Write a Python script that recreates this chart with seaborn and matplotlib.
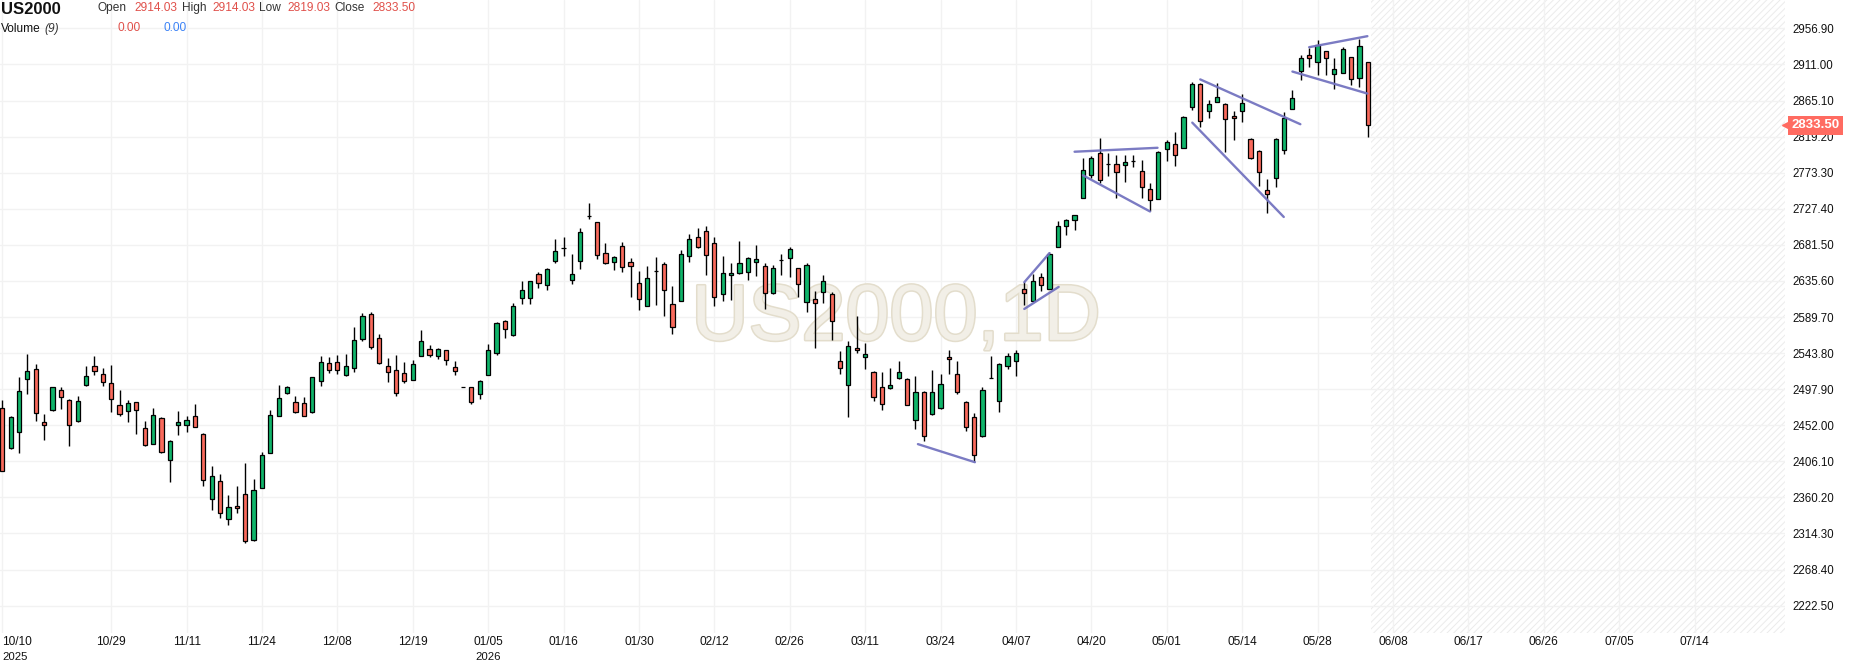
import numpy as np
import pandas as pd
import seaborn as sns
import matplotlib
matplotlib.use("Agg")
import matplotlib.pyplot as plt
import matplotlib.transforms as mtransforms
import matplotlib.patheffects as pe

# daily OHLC (index 0 = 10/10/2025)
opens = [2473.5, 2423.6, 2444.0, 2510.5, 2523.3, 2455.6, 2470.9, 2496.5, 2483.7, 2456.8,
         2502.9, 2527.2, 2516.9, 2505.4, 2477.3, 2469.6, 2481.1, 2447.9, 2428.7, 2460.7,
         2408.2, 2451.7, 2451.7, 2463.2, 2441.5, 2358.4, 2381.4, 2332.8, 2349.4, 2364.6,
         2305.8, 2372.3, 2417.1, 2464.4, 2492.5, 2482.2, 2479.7, 2469.5, 2507.8, 2530.8,
         2532.1, 2515.5, 2524.5, 2561.5, 2593.5, 2562.8, 2527.0, 2521.9, 2518.1, 2509.1,
         2539.8, 2548.7, 2539.8, 2547.5, 2525.7, 2500.2, 2500.2, 2492.0, 2516.5, 2544.4,
         2585.1, 2567.3, 2614.3, 2614.3, 2644.8, 2630.8, 2661.3, 2677.8, 2637.2, 2661.3,
         2718.5, 2710.9, 2671.5, 2660.1, 2680.4, 2660.1, 2633.4, 2604.1, 2647.8, 2657.5,
         2606.7, 2610.5, 2667.7, 2691.8, 2699.3, 2684.0, 2619.2, 2643.4, 2645.9, 2647.2,
         2659.9, 2654.8, 2620.5, 2662.4, 2665.0, 2652.3, 2609.1, 2612.9, 2621.8, 2619.2,
         2534.1, 2503.6, 2550.6, 2539.2, 2520.2, 2501.1, 2499.8, 2512.5, 2511.3, 2459.2,
         2494.8, 2465.8, 2473.4, 2539.4, 2516.6, 2481.0, 2462.0, 2437.9, 2512.3, 2482.3,
         2528.0, 2534.3, 2625.7, 2610.5, 2640.9, 2625.7, 2678.9, 2705.7, 2713.4, 2741.4,
         2770.7, 2798.8, 2783.9, 2784.8, 2783.5, 2787.7, 2775.8, 2752.9, 2739.9, 2803.9,
         2810.2, 2805.0, 2857.1, 2886.4, 2852.0, 2863.5, 2860.9, 2845.7, 2852.0, 2816.8,
         2801.2, 2751.6, 2766.8, 2802.4, 2854.6, 2902.9, 2923.3, 2914.4, 2928.4, 2899.1,
         2900.4, 2920.7, 2894.0, 2914.03]
highs = [2484.5, 2463.6, 2513.1, 2542.9, 2529.7, 2465.8, 2501.0, 2500.3, 2485.0, 2488.8,
         2527.2, 2539.9, 2524.6, 2528.4, 2496.5, 2483.7, 2481.5, 2456.8, 2473.5, 2462.0,
         2433.0, 2469.6, 2463.2, 2478.6, 2442.0, 2400.6, 2390.3, 2363.5, 2375.0, 2404.3,
         2383.8, 2417.5, 2470.8, 2502.7, 2501.4, 2488.6, 2487.4, 2513.5, 2539.8, 2538.5,
         2541.1, 2542.4, 2576.9, 2594.8, 2596.1, 2567.9, 2537.2, 2541.1, 2532.1, 2534.7,
         2573.0, 2553.9, 2550.0, 2548.0, 2533.4, 2500.2, 2500.5, 2510.2, 2555.9, 2583.0,
         2585.5, 2607.9, 2635.9, 2636.0, 2647.4, 2652.4, 2689.3, 2691.8, 2670.2, 2703.2,
         2735.0, 2711.0, 2684.2, 2667.0, 2685.5, 2665.1, 2648.6, 2655.0, 2666.4, 2660.1,
         2629.6, 2675.3, 2695.6, 2703.2, 2705.6, 2691.6, 2667.5, 2658.6, 2686.6, 2665.5,
         2681.5, 2658.6, 2656.1, 2670.0, 2678.9, 2652.5, 2658.6, 2623.0, 2643.4, 2621.8,
         2546.8, 2559.5, 2591.3, 2557.0, 2520.5, 2520.2, 2525.2, 2534.1, 2511.5, 2515.1,
         2496.0, 2522.0, 2517.8, 2548.3, 2534.3, 2482.3, 2467.1, 2501.3, 2540.7, 2531.0,
         2544.5, 2548.3, 2634.6, 2644.7, 2646.0, 2672.6, 2712.1, 2714.6, 2720.0, 2792.4,
         2795.0, 2817.9, 2798.8, 2796.2, 2796.2, 2796.2, 2789.9, 2760.5, 2800.5, 2815.4,
         2825.6, 2845.7, 2888.9, 2887.7, 2866.0, 2887.7, 2861.5, 2852.0, 2873.7, 2817.7,
         2802.4, 2765.6, 2817.7, 2850.8, 2878.8, 2923.3, 2932.2, 2942.4, 2928.5, 2919.5,
         2933.5, 2921.0, 2943.6, 2914.03]
lows = [2393.3, 2422.0, 2417.2, 2491.8, 2457.7, 2433.4, 2470.0, 2473.0, 2425.7, 2456.0,
        2502.0, 2515.6, 2501.6, 2468.3, 2464.1, 2455.6, 2441.1, 2425.7, 2428.0, 2417.2,
        2380.1, 2440.2, 2444.0, 2449.2, 2375.0, 2344.3, 2334.1, 2325.1, 2340.5, 2302.8,
        2305.0, 2372.0, 2417.0, 2464.0, 2492.0, 2468.2, 2464.0, 2468.2, 2501.4, 2518.1,
        2516.8, 2514.2, 2519.3, 2559.0, 2548.7, 2529.6, 2506.6, 2488.6, 2505.3, 2509.0,
        2539.5, 2538.5, 2536.0, 2528.3, 2515.5, 2500.2, 2479.0, 2486.0, 2516.0, 2541.9,
        2563.5, 2566.0, 2606.7, 2606.7, 2627.0, 2624.5, 2658.8, 2667.7, 2632.1, 2651.2,
        2714.7, 2663.9, 2657.5, 2649.9, 2647.4, 2615.6, 2599.1, 2604.0, 2605.4, 2591.4,
        2568.6, 2610.0, 2660.1, 2677.8, 2643.4, 2604.0, 2610.3, 2611.6, 2644.6, 2637.0,
        2642.1, 2600.2, 2619.2, 2643.4, 2640.8, 2615.4, 2596.4, 2550.6, 2607.8, 2560.8,
        2517.6, 2463.0, 2544.3, 2524.0, 2483.3, 2471.9, 2498.6, 2511.3, 2478.0, 2446.9,
        2432.0, 2465.0, 2472.1, 2517.8, 2491.2, 2444.2, 2404.9, 2437.5, 2511.5, 2468.3,
        2524.2, 2515.3, 2605.4, 2610.0, 2623.2, 2625.0, 2678.5, 2694.2, 2700.6, 2741.0,
        2766.9, 2760.5, 2769.5, 2741.4, 2761.8, 2780.9, 2741.0, 2724.8, 2739.5, 2788.6,
        2782.2, 2804.5, 2853.3, 2831.7, 2843.1, 2863.0, 2799.9, 2815.2, 2838.1, 2791.0,
        2756.7, 2722.3, 2755.4, 2797.4, 2854.0, 2891.5, 2908.0, 2897.8, 2897.8, 2880.0,
        2900.0, 2885.1, 2882.6, 2819.03]
closes = [2394.2, 2461.9, 2495.2, 2520.8, 2467.1, 2451.7, 2500.3, 2487.5, 2451.7, 2482.4,
          2514.4, 2520.8, 2506.7, 2485.0, 2465.8, 2479.8, 2470.9, 2427.4, 2464.5, 2418.5,
          2432.5, 2455.6, 2458.1, 2450.4, 2382.7, 2387.8, 2340.5, 2348.2, 2346.9, 2304.5,
          2369.7, 2414.5, 2465.6, 2486.1, 2500.2, 2469.5, 2464.4, 2513.0, 2532.1, 2521.9,
          2521.9, 2527.0, 2560.3, 2590.9, 2551.3, 2530.8, 2519.3, 2492.5, 2507.8, 2529.6,
          2559.0, 2541.1, 2548.7, 2534.7, 2520.6, 2500.2, 2482.2, 2508.1, 2548.2, 2582.5,
          2574.9, 2604.1, 2624.5, 2635.9, 2633.4, 2651.2, 2674.0, 2677.8, 2644.8, 2698.2,
          2717.8, 2669.0, 2658.8, 2666.4, 2653.7, 2655.0, 2613.0, 2639.7, 2647.8, 2624.5,
          2577.5, 2670.2, 2689.3, 2679.1, 2668.8, 2615.4, 2645.9, 2645.9, 2658.6, 2665.0,
          2663.7, 2620.5, 2652.3, 2662.4, 2676.4, 2631.9, 2656.1, 2607.8, 2635.7, 2584.9,
          2525.2, 2553.2, 2548.1, 2543.0, 2488.4, 2479.5, 2503.6, 2520.2, 2478.2, 2494.8,
          2438.7, 2493.7, 2505.1, 2536.9, 2493.7, 2449.3, 2413.8, 2496.3, 2512.3, 2530.5,
          2540.7, 2544.5, 2620.6, 2635.8, 2630.8, 2670.1, 2705.7, 2713.4, 2719.7, 2777.1,
          2792.4, 2764.4, 2783.9, 2774.5, 2787.3, 2787.7, 2755.4, 2738.8, 2800.0, 2812.8,
          2796.2, 2844.4, 2886.4, 2839.3, 2860.9, 2869.9, 2841.9, 2843.1, 2862.2, 2792.3,
          2774.5, 2746.5, 2816.4, 2843.1, 2868.6, 2919.5, 2919.5, 2936.0, 2919.5, 2905.5,
          2930.9, 2892.8, 2934.7, 2833.50]

# date axis: one label every 9 bars
tick_pos = [0, 13, 22, 31, 40, 49, 58, 67, 76, 85, 94, 103, 112, 121, 130, 139, 148, 157,
            166, 175, 184, 193, 202]
tick_labels = ['10/10', '10/29', '11/11', '11/24', '12/08', '12/19', '01/05',
               '01/16', '01/30', '02/12', '02/26', '03/11', '03/24', '04/07', '04/20',
               '05/01', '05/14', '05/28', '06/08', '06/17', '06/26', '07/05', '07/14']
year_pos = [0, 58]
year_labels = ['2025', '2026']
price_ticks = [2222.5 + 45.9 * i for i in range(17)]

# drawn trendlines (bar index, price)
trend_seg = [0, 0, 1, 1, 2, 2, 3, 3, 4, 4, 5, 5, 6, 6, 7, 7, 8, 8]
trend_x = [109.3, 116.1, 122.0, 125.0, 122.0, 126.1, 128.0, 137.9, 129.0, 137.0,
           143.0, 154.95, 142.05, 152.97, 156.0, 162.95, 154.0, 162.95]
trend_y = [2428, 2405, 2634, 2671, 2600, 2628, 2800, 2805, 2770, 2724,
           2892, 2835, 2837, 2717, 2933, 2947, 2902, 2874]

GREEN = '#10b46a'
RED = '#f96a5c'

sns.set_style("white")
plt.rcParams['font.family'] = ['Liberation Sans', 'DejaVu Sans']
plt.rcParams['hatch.linewidth'] = 0.7

df = pd.DataFrame({'open': opens, 'high': highs, 'low': lows, 'close': closes})
df['idx'] = np.arange(len(df))
df['bottom'] = df[['open', 'close']].min(axis=1)
df['height'] = (df['close'] - df['open']).abs()
df['color'] = np.where(df['close'] >= df['open'], GREEN, RED)

fig = plt.figure(figsize=(18.55, 6.63), dpi=100)
ax = fig.add_axes([0, 30 / 663, 1785 / 1855, 633 / 663])

ax.set_xlim(-0.27, 212.8)
ax.set_ylim(2187.7, 2993.03)

# future area
ax.axvspan(163.4, 212.8, facecolor='none', edgecolor='#ebebeb', hatch='/////',
           linewidth=0, zorder=0)

ax.grid(True, color='#f2f2f2', linewidth=1)
ax.set_axisbelow(True)
for s in ax.spines.values():
    s.set_visible(False)

# watermark
ax.text(0.502, 0.463, 'US2000,1D', transform=ax.transAxes, ha='center', va='baseline',
        fontsize=57, color='#f2efe7', zorder=1,
        path_effects=[pe.withStroke(linewidth=2.2, foreground='#e3ddcc')])

ax.vlines(df['idx'], df['low'], df['high'], color='black', linewidth=1.0, zorder=3)
ax.bar(df['idx'], df['height'], bottom=df['bottom'], width=0.5, color=df['color'],
       edgecolor='black', linewidth=0.9, zorder=4)

tl = pd.DataFrame({'seg': trend_seg, 'x': trend_x, 'y': trend_y})
sns.lineplot(data=tl, x='x', y='y', units='seg', estimator=None, sort=False,
             color='#7474c0', linewidth=1.7, alpha=0.95, ax=ax, zorder=5, legend=False)
ax.set_xlabel('')
ax.set_ylabel('')

ax.set_xticks(tick_pos)
ax.set_xticklabels(tick_labels, fontsize=8.6, color='#111111')
ax.get_xticklabels()[0].set_horizontalalignment('left')
ax.yaxis.tick_right()
ax.set_yticks(price_ticks)
ax.set_yticklabels(['{:.2f}'.format(v) for v in price_ticks], fontsize=8.3, color='#111111')
ax.tick_params(axis='both', length=0)
ax.tick_params(axis='x', pad=2)
ax.tick_params(axis='y', pad=5)

# year under the first tick of each year
xtrans = mtransforms.blended_transform_factory(ax.transData, fig.transFigure)
for pos, yr in zip(year_pos, year_labels):
    ax.text(pos, 1 / 663, yr, transform=xtrans, fontsize=8.2, color='#111111',
            ha='left' if pos == 0 else 'center', va='bottom', clip_on=False)

# last price tag
last = closes[-1]
trans = mtransforms.blended_transform_factory(ax.transAxes, ax.transData)
ax.text(1.0035, last, '{:.2f}'.format(last), transform=trans, ha='left', va='center',
        fontsize=9.5, fontweight='bold', color='white', clip_on=False, zorder=6,
        bbox=dict(boxstyle='square,pad=0.28', facecolor='#ff6b61', edgecolor='none'))
ax.plot([1.0], [last], marker='<', markersize=5, color='#ff6b61', transform=trans,
        clip_on=False, zorder=6)

# header
def px(x, y):
    return x / 1855, 1 - y / 663

fig.text(*px(1, 9), 'US2000', fontsize=12, fontweight='bold', color='#111111', va='center')
hdr = [(97, 'Open', '#333333'), (134, '2914.03', '#e0504a'), (182, 'High', '#333333'),
       (212, '2914.03', '#e0504a'), (259, 'Low', '#333333'), (287, '2819.03', '#e0504a'),
       (334, 'Close', '#333333'), (372, '2833.50', '#e0504a')]
for x, s, c in hdr:
    fig.text(*px(x, 8), s, fontsize=8.6, color=c, va='center')
fig.text(*px(1, 29), 'Volume', fontsize=8.6, color='#111111', va='center')
fig.text(*px(44, 29), '(9)', fontsize=8.6, color='#333333', style='italic', va='center')
fig.text(*px(117, 28), '0.00', fontsize=8.6, color='#e0504a', va='center')
fig.text(*px(163, 28), '0.00', fontsize=8.6, color='#3b82f6', va='center')

fig.savefig('out.png', dpi=100)
